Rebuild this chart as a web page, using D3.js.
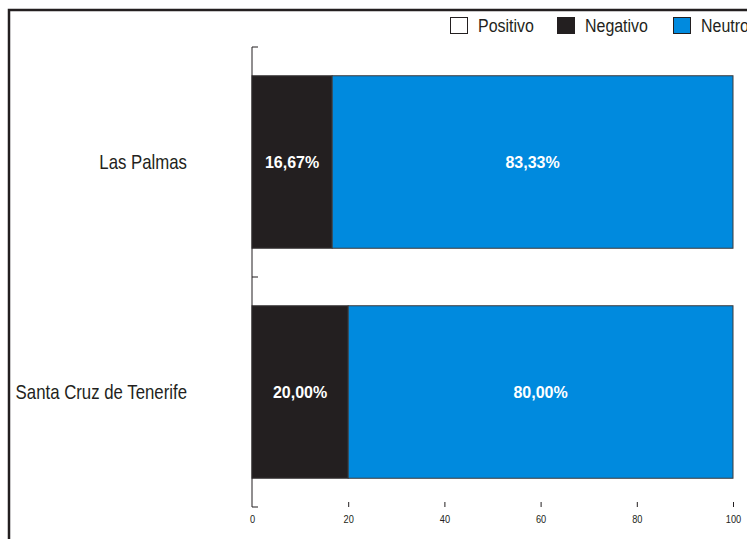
<!DOCTYPE html>
<html>
<head>
<meta charset="utf-8">
<script src="https://cdn.jsdelivr.net/npm/d3@7"></script>
<style>
  body { margin: 0; background: #fff; }
  svg { display: block; }
  text { font-family: "Liberation Sans", Arial, sans-serif; fill: #231f20; }
</style>
</head>
<body>
<svg id="chart" width="747" height="539"></svg>
<script>
// values (percent)
var provincias = ['Las Palmas', 'Santa Cruz de Tenerife'];
var positivo = [0, 0];
var negativo = [16.67, 20.0];
var neutro = [83.33, 80.0];
var series = ['Positivo', 'Negativo', 'Neutro'];
var xTicks = [0, 20, 40, 60, 80, 100];

var colores = { Positivo: '#ffffff', Negativo: '#231f20', Neutro: '#008ade' };
var narrow = 'scale(0.84,1)'; // no condensed font installed, squeeze it instead

var svg = d3.select('#chart');

// frame (only top and left sides show)
svg.append('path')
  .attr('d', 'M9,545V10H760')
  .attr('fill', 'none')
  .attr('stroke', '#231f20')
  .attr('stroke-width', 2.5);

var x = d3.scaleLinear().domain([0, 100]).range([252, 733]);
var y = d3.scaleBand().domain(provincias).range([47, 507])
  .paddingInner(0.25).paddingOuter(0.125);

// build rows for the stack
var rows = provincias.map(function(p, i) {
  return { prov: p, Positivo: positivo[i], Negativo: negativo[i], Neutro: neutro[i] };
});
var stacked = d3.stack().keys(series)(rows);

var es = d3.formatLocale({ decimal: ',', thousands: '.', grouping: [3], currency: ['', '€'] });
var pct = es.format('.2f');

var layers = svg.selectAll('g.layer')
  .data(stacked)
  .enter()
  .append('g')
  .attr('class', 'layer')
  .attr('fill', d => colores[d.key]);

layers.selectAll('rect')
  .data(d => d.filter(s => s[1] - s[0] > 0))
  .enter()
  .append('rect')
  .attr('x', d => x(d[0]))
  .attr('y', d => y(d.data.prov))
  .attr('width', d => x(d[1]) - x(d[0]))
  .attr('height', y.bandwidth())
  .attr('stroke', '#3c3a3b')
  .attr('stroke-width', 1);

layers.selectAll('text')
  .data(d => d.filter(s => s[1] - s[0] > 0))
  .enter()
  .append('text')
  .attr('x', d => x((d[0] + d[1]) / 2))
  .attr('y', d => y(d.data.prov) + y.bandwidth() / 2)
  .attr('dy', '0.36em')
  .attr('text-anchor', 'middle')
  .style('font-weight', 'bold')
  .style('font-size', '16px')
  .style('fill', '#fff')
  .text(d => pct(d[1] - d[0]) + '%');

// y axis: line on the left with ticks at band edges, pointing right
var edges = d3.range(provincias.length + 1).map(i => 47 + i * y.step());
svg.append('line')
  .attr('x1', x(0)).attr('x2', x(0))
  .attr('y1', edges[0]).attr('y2', edges[edges.length - 1])
  .attr('stroke', '#231f20');
svg.selectAll('line.ytick')
  .data(edges)
  .enter()
  .append('line')
  .attr('class', 'ytick')
  .attr('x1', x(0)).attr('x2', x(0) + 6)
  .attr('y1', d => d).attr('y2', d => d)
  .attr('stroke', '#231f20');

svg.selectAll('text.cat')
  .data(provincias)
  .enter()
  .append('text')
  .attr('class', 'cat')
  .attr('transform', d => 'translate(187,' + (y(d) + y.bandwidth() / 2) + ') ' + narrow)
  .attr('dy', '0.35em')
  .attr('text-anchor', 'end')
  .style('font-size', '20px')
  .text(d => d);

// x axis, ticks pointing up and no domain line
var xAxis = svg.append('g')
  .attr('transform', 'translate(0,507)')
  .call(d3.axisBottom(x).tickValues(xTicks).tickSize(-5).tickPadding(8));
xAxis.select('.domain').remove();
xAxis.selectAll('.tick line').attr('stroke', '#231f20');
xAxis.selectAll('.tick text')
  .attr('transform', narrow)
  .style('font-family', '"Liberation Sans", sans-serif')
  .style('font-size', '11px')
  .style('fill', '#231f20');
xAxis.selectAll('.tick').filter(d => d === 0).select('line').remove();

// legend
var legX = [450, 557, 673];
var leg = svg.selectAll('g.leg')
  .data(series)
  .enter()
  .append('g')
  .attr('class', 'leg')
  .attr('transform', (d, i) => 'translate(' + legX[i] + ',17)');
leg.append('rect')
  .attr('x', 0.5).attr('y', 0.5)
  .attr('width', 17).attr('height', 16)
  .attr('fill', d => colores[d])
  .attr('stroke', '#231f20');
leg.append('text')
  .attr('transform', 'translate(28,15) ' + narrow)
  .style('font-size', '19px')
  .text(d => d);
</script>
</body>
</html>
